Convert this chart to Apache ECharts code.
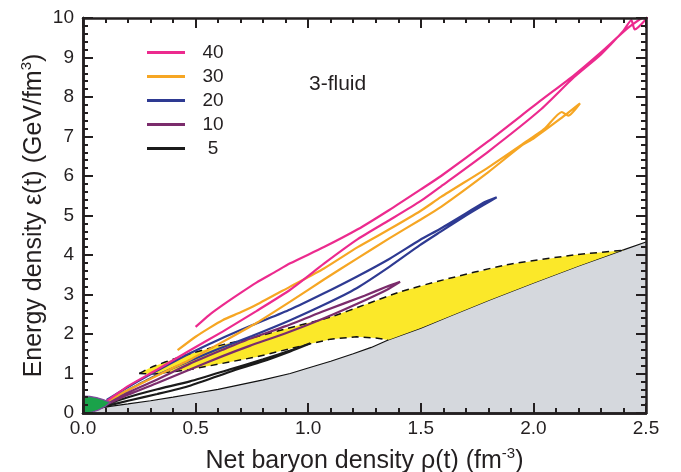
<!DOCTYPE html>
<html>
<head>
<meta charset="utf-8">
<script src="https://cdn.jsdelivr.net/npm/echarts@6/dist/echarts.min.js"></script>
<style>html,body{margin:0;padding:0;background:#fff}#c{width:681px;height:472px}</style>
</head>
<body>
<div id="c"></div>
<script>
// ---- data ----
const xTickLabels = ['0.0','0.5','1.0','1.5','2.0','2.5'];
const yTickLabels = ['0','1','2','3','4','5','6','7','8','9','10'];
const legendNames = ['40','30','20','10','5'];

// lower solid boundary (edge of the grey region)
const lowerBoundary = [[0,0],[0.04,0.07],[0.08,0.13],[0.12,0.17],[0.2,0.23],[0.3,0.31],[0.4,0.4],[0.5,0.5],[0.6,0.6],[0.7,0.72],[0.8,0.84],[0.92,1.0],[1.0,1.14],[1.1,1.31],[1.2,1.5],[1.28,1.66],[1.355,1.85],[1.5,2.15],[1.62,2.43],[1.8,2.85],[2.0,3.29],[2.2,3.72],[2.4,4.13],[2.5,4.33]];
// dashed edges of the yellow region
const yellowUpper = [[0.25,1.0],[0.3,1.15],[0.43,1.42],[0.6,1.7],[0.75,1.9],[0.9,2.13],[1.1,2.43],[1.26,2.76],[1.41,3.07],[1.6,3.37],[1.88,3.75],[2.18,4.0],[2.4,4.12]];
const yellowLower = [[0.25,1.0],[0.32,0.99],[0.475,1.1],[0.77,1.42],[1.0,1.74],[1.1,1.87],[1.215,1.93],[1.3,1.9],[1.355,1.85]];
// green cap at the origin
const greenCap = [[0,0.43],[0.03,0.42],[0.06,0.39],[0.09,0.34],[0.12,0.27],[0.1,0.17],[0.07,0.08],[0.04,0.02],[0.02,0],[0,0]];

// trajectories: forward (compression) branch, then return (expansion) branch
const e40 = [[0.50,2.18],[0.56,2.48],[0.62,2.73],[0.70,3.04],[0.77,3.30],[0.85,3.56],[0.92,3.79],[1.07,4.20],[1.22,4.65],[1.36,5.14],[1.50,5.66],[1.59,6.0],[1.80,6.88],[2.03,7.9],[2.18,8.55],[2.30,9.13],[2.42,9.75],[2.52,10.15],
  [2.50,9.97],[2.45,9.71],[2.435,9.95],[2.40,9.68],[2.30,9.08],[2.18,8.5],[2.03,7.67],[1.80,6.62],[1.59,5.74],[1.50,5.37],[1.36,4.88],[1.22,4.4],[1.07,3.78],[0.92,3.12],[0.77,2.58],[0.62,2.06],[0.47,1.57],[0.33,1.1],[0.2,0.68],[0.105,0.3]];
const e30 = [[0.42,1.59],[0.50,1.93],[0.56,2.15],[0.62,2.35],[0.70,2.55],[0.77,2.74],[0.92,3.2],[1.07,3.66],[1.22,4.2],[1.36,4.65],[1.50,5.12],[1.59,5.47],[1.80,6.22],[1.95,6.80],[2.05,7.2],[2.126,7.62],[2.155,7.53],[2.207,7.84],
  [2.12,7.45],[2.0,6.95],[1.95,6.78],[1.80,6.1],[1.59,5.22],[1.50,4.9],[1.36,4.42],[1.22,3.92],[1.07,3.38],[0.92,2.82],[0.77,2.28],[0.62,1.8],[0.475,1.35],[0.33,0.95],[0.2,0.58],[0.105,0.28]];
const e20 = [[0.105,0.33],[0.2,0.66],[0.3,0.98],[0.475,1.51],[0.6,1.85],[0.75,2.22],[0.92,2.62],[1.07,3.03],[1.215,3.45],[1.36,3.9],[1.496,4.38],[1.585,4.66],[1.7,5.05],[1.776,5.32],[1.837,5.46],
  [1.776,5.26],[1.7,5.0],[1.585,4.58],[1.496,4.25],[1.36,3.7],[1.215,3.16],[1.07,2.74],[0.92,2.35],[0.75,1.95],[0.6,1.62],[0.475,1.32],[0.3,0.88],[0.2,0.58],[0.105,0.28]];
const e10 = [[0.1,0.25],[0.2,0.52],[0.33,0.85],[0.475,1.25],[0.62,1.6],[0.74,1.88],[0.9,2.2],[1.07,2.58],[1.25,2.97],[1.35,3.2],[1.408,3.32],
  [1.35,3.12],[1.25,2.85],[1.07,2.4],[0.9,2.02],[0.74,1.7],[0.62,1.44],[0.475,1.1],[0.33,0.76],[0.2,0.46],[0.1,0.2]];
const e5 = [[0.08,0.18],[0.2,0.4],[0.33,0.6],[0.475,0.8],[0.65,1.1],[0.8,1.36],[0.92,1.58],[1.008,1.76],
  [0.92,1.56],[0.8,1.31],[0.65,1.04],[0.475,0.69],[0.33,0.48],[0.2,0.31],[0.08,0.14]];

// ---- chart ----
const FONT = '"Liberation Sans", Arial, Helvetica, sans-serif';
const INK = '#231f20';
const chart = echarts.init(document.getElementById('c'));

const yellowPoly = yellowUpper
  .concat(lowerBoundary.filter(p => p[0] > 1.355 && p[0] <= 2.4).reverse())
  .concat(yellowLower.slice().reverse());

function polySeries(points, fill, stroke, z) {
  return {
    type: 'custom', coordinateSystem: 'cartesian2d', z: z, silent: true,
    data: [[0, 0]],
    renderItem: function (params, api) {
      return {type: 'polygon', shape: {points: points.map(p => api.coord(p))},
        style: {fill: fill, stroke: stroke || 'none', lineWidth: 1.2}};
    }
  };
}
function traj(name, data, color) {
  return {name: name, type: 'line', data: data, showSymbol: false, symbol: 'none', z: 4, smooth: 0.2,
    color: color, lineStyle: {color: color, width: 2.2}, itemStyle: {color: color}, silent: true};
}
function richName() {
  return {
    a: {fontSize: 25, fontFamily: FONT, color: INK, lineHeight: 30},
    s: {fontSize: 15, fontFamily: FONT, color: INK, verticalAlign: 'top', lineHeight: 30, padding: [0, 0, 12, 0]}
  };
}
// tick-only frame axis (inward major + minor ticks, no labels)
function tickAxis(min, max, interval, position, gridIndex) {
  return {
    type: 'value', gridIndex: gridIndex, min: min, max: max, interval: interval, position: position, z: 10,
    axisLine: {show: true, onZero: false, lineStyle: {color: INK, width: 2.5}},
    axisTick: {show: true, inside: true, length: 10, lineStyle: {color: INK, width: 2}},
    minorTick: {show: true, splitNumber: 5, length: 5, lineStyle: {color: INK, width: 2}},
    splitLine: {show: false}, minorSplitLine: {show: false}, axisLabel: {show: false}
  };
}

const gridRect = {left: 83, right: 35, top: 18, bottom: 59, containLabel: false, outerBoundsMode: 'none'};

chart.setOption({
  animation: false,
  grid: [Object.assign({}, gridRect), Object.assign({}, gridRect)],
  legend: {
    data: legendNames, orient: 'vertical', left: 147, top: 43, padding: 0,
    itemWidth: 38, itemHeight: 3, itemGap: 5, icon: 'rect', selectedMode: false,
    formatter: n => '{a|' + n + '}',
    textStyle: {rich: {a: {width: 46, align: 'center', fontSize: 19, lineHeight: 20, fontFamily: FONT, color: INK}}}
  },
  graphic: [{type: 'text', left: 309, top: 74, z: 20, style: {text: '3-fluid', fontSize: 21, fontFamily: FONT, fill: INK}}],
  xAxis: [
    {
      type: 'value', gridIndex: 0, min: 0, max: 2.5, interval: 0.5, position: 'bottom', z: 10,
      axisLine: {show: true, onZero: false, lineStyle: {color: INK, width: 2.5}},
      axisTick: {show: false}, splitLine: {show: false},
      axisLabel: {margin: 6, fontSize: 19, fontFamily: FONT, color: INK, formatter: v => xTickLabels[Math.round(v / 0.5)] || ''},
      name: '{a|Net baryon density ρ(t) (fm}{s|-3}{a|)}', nameLocation: 'middle', nameGap: 33, nameMoveOverlap: false,
      nameTextStyle: {rich: richName()}
    },
    tickAxis(0, 2.5, 0.5, 'top', 0),
    tickAxis(0, 2.5, 0.5, 'bottom', 1)
  ],
  yAxis: [
    {
      type: 'value', gridIndex: 0, min: 0, max: 10, interval: 1, position: 'left', z: 10,
      axisLine: {show: true, onZero: false, lineStyle: {color: INK, width: 2.5}},
      axisTick: {show: false}, splitLine: {show: false},
      axisLabel: {margin: 9, fontSize: 19, fontFamily: FONT, color: INK, formatter: v => yTickLabels[Math.round(v)] || ''},
      name: '{a|Energy density ε(t) (GeV/fm}{s|3}{a|)}', nameLocation: 'middle', nameGap: 34, nameRotate: 90, nameMoveOverlap: false,
      nameTextStyle: {rich: richName()}
    },
    tickAxis(0, 10, 1, 'right', 0),
    tickAxis(0, 10, 1, 'left', 1)
  ],
  series: [
    {type: 'line', data: lowerBoundary, showSymbol: false, symbol: 'none', z: 1, silent: true,
     lineStyle: {color: '#111', width: 1.2}, areaStyle: {color: '#d5d8dd', opacity: 1}},
    polySeries(yellowPoly, '#fbe829', null, 2),
    {type: 'line', data: yellowUpper, showSymbol: false, symbol: 'none', z: 3, silent: true, smooth: 0.2,
     lineStyle: {color: '#111', width: 1.5, type: [7, 5]}},
    {type: 'line', data: yellowLower, showSymbol: false, symbol: 'none', z: 3, silent: true,
     lineStyle: {color: '#111', width: 1.5, type: [7, 5]}},
    traj('5', e5, '#1b1b1b'),
    traj('10', e10, '#7b2c6c'),
    traj('20', e20, '#2e3a92'),
    traj('30', e30, '#f6a623'),
    traj('40', e40, '#ec2a8e'),
    polySeries(greenCap, '#1aa24a', '#7e4a9c', 5)
  ]
});
</script>
</body>
</html>
